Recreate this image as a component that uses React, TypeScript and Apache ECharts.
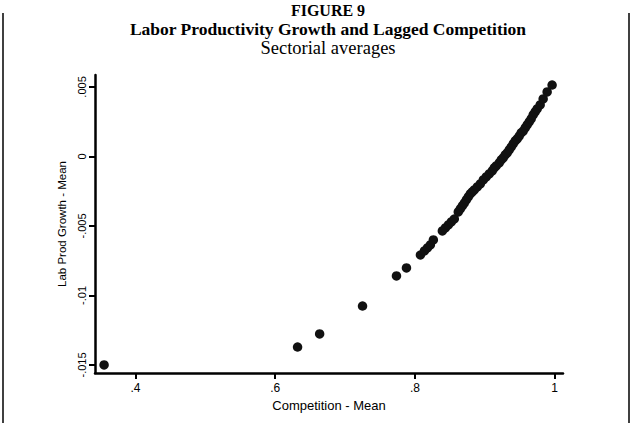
import React, { useEffect, useRef } from "react";
import * as echarts from "echarts";

// Sector means: competition index (x) and labour productivity growth (y)
const competition = [
  0.355, 0.632, 0.6636, 0.725, 0.7736, 0.7879,
  0.8079, 0.8136, 0.8179, 0.8221, 0.8264,
  0.8393, 0.8436, 0.8479, 0.8521, 0.8564,
  0.8621, 0.865, 0.8679, 0.8707, 0.8736, 0.8764, 0.8793, 0.8821, 0.885, 0.8893,
  0.8936, 0.8979, 0.9021, 0.9064, 0.9107, 0.9136, 0.9164, 0.9207, 0.9236, 0.9264,
  0.9293, 0.9321, 0.935, 0.9379, 0.9407, 0.9436, 0.9464, 0.9493, 0.9521, 0.955,
  0.9579, 0.9607, 0.9636, 0.9664, 0.9693, 0.9721, 0.975, 0.9793, 0.9836, 0.9893,
  0.9964,
];
const labProdGrowth = [
  -0.015, -0.01371, -0.01277, -0.01076, -0.0086, -0.00802,
  -0.00709, -0.0068, -0.00658, -0.00637, -0.00601,
  -0.00536, -0.00514, -0.00493, -0.00471, -0.0045,
  -0.00399, -0.00378, -0.00356, -0.00335, -0.00313, -0.00291, -0.0027, -0.00255, -0.00241, -0.00219,
  -0.00198, -0.00169, -0.00147, -0.00126, -0.00104, -0.00083, -0.00068, -0.00047, -0.00025, -0.00011,
  0.00011, 0.00025, 0.00047, 0.00068, 0.0009, 0.00112, 0.00126, 0.00147, 0.00169, 0.00183,
  0.00205, 0.00227, 0.00248, 0.0027, 0.00299, 0.0032, 0.00342, 0.00371, 0.00414, 0.00464,
  0.00514,
];

const xTickValues = [0.4, 0.6, 0.8, 1];
const xTickLabels = [".4", ".6", ".8", "1"];
const yTickValues = [-0.015, -0.01, -0.005, 0, 0.005];
const yTickLabels = ["-.015", "-.01", "-.005", "0", ".005"];

const titleLines = [
  "FIGURE 9",
  "Labor Productivity Growth and Lagged Competition",
  "Sectorial averages",
];

const xName = "Competition - Mean";
const yName = "Lab Prod Growth - Mean";

const SANS = "'Liberation Sans', Arial, sans-serif";
const SERIF = "'Liberation Serif', 'Times New Roman', serif";

function lookup(values: number[], labels: string[], v: number): string {
  let best = 0;
  for (let i = 1; i < values.length; i++) {
    if (Math.abs(values[i] - v) < Math.abs(values[best] - v)) best = i;
  }
  return labels[best];
}

export default function App() {
  const ref = useRef<HTMLDivElement>(null);

  useEffect(() => {
    if (!ref.current) return;
    const chart = echarts.init(ref.current, undefined, { renderer: "svg" });

    const points = competition.map((c, i) => [c, labProdGrowth[i]]);

    // heading block, centred over the plot rather than the page
    const titleX = 328;
    const titleText = (text: string, y: number, size: number, weight: string) => ({
      type: "text",
      x: titleX,
      y,
      style: {
        text,
        x: 0,
        y: 0,
        textAlign: "center",
        textVerticalAlign: "middle",
        fontFamily: SERIF,
        fontWeight: weight,
        fontSize: size,
        fill: "#000",
      },
    });

    chart.setOption({
      animation: false,
      backgroundColor: "#ffffff",
      graphic: [
        titleText(titleLines[0], 10, 16, "bold"),
        titleText(titleLines[1], 29, 17.5, "bold"),
        titleText(titleLines[2], 48, 18.5, "normal"),
        { type: "line", shape: { x1: 3, y1: 13, x2: 3, y2: 423 }, style: { stroke: "#000", lineWidth: 1.5 } },
        { type: "line", shape: { x1: 629, y1: 13, x2: 629, y2: 423 }, style: { stroke: "#000", lineWidth: 1.5 } },
      ],
      grid: { left: 95, right: 70, top: 75, bottom: 50 },
      xAxis: {
        type: "value",
        min: 0.342,
        max: 1.012,
        splitLine: { show: false },
        axisLine: { onZero: false, lineStyle: { color: "#000", width: 2.5 } },
        axisTick: { customValues: xTickValues, length: 6, lineStyle: { color: "#000", width: 2 } },
        axisLabel: {
          customValues: xTickValues,
          formatter: (v: number) => lookup(xTickValues, xTickLabels, v),
          fontFamily: SANS,
          fontSize: 12,
          color: "#000",
          margin: 9,
        },
        name: xName,
        nameLocation: "middle",
        nameGap: 20,
        nameTextStyle: { fontFamily: SANS, fontSize: 13, color: "#000" },
      },
      yAxis: {
        type: "value",
        min: -0.01558,
        max: 0.00586,
        splitLine: { show: false },
        axisLine: { onZero: false, lineStyle: { color: "#000", width: 2.5 } },
        axisTick: { customValues: yTickValues, length: 6, lineStyle: { color: "#000", width: 2 } },
        axisLabel: {
          customValues: yTickValues,
          formatter: (v: number) => lookup(yTickValues, yTickLabels, v),
          rotate: 90,
          fontFamily: SANS,
          fontSize: 11,
          color: "#000",
          margin: 8,
        },
        name: yName,
        nameLocation: "middle",
        nameGap: 22,
        nameTextStyle: { fontFamily: SANS, fontSize: 11.5, color: "#000" },
      },
      series: [
        {
          type: "scatter",
          data: points,
          symbol: "circle",
          symbolSize: 9.5,
          itemStyle: { color: "#111111", opacity: 1 },
        },
      ],
    });

    return () => chart.dispose();
  }, []);

  return (
    <div
      ref={ref}
      style={{ position: "fixed", left: 0, top: 0, width: 633, height: 423 }}
    />
  );
}
